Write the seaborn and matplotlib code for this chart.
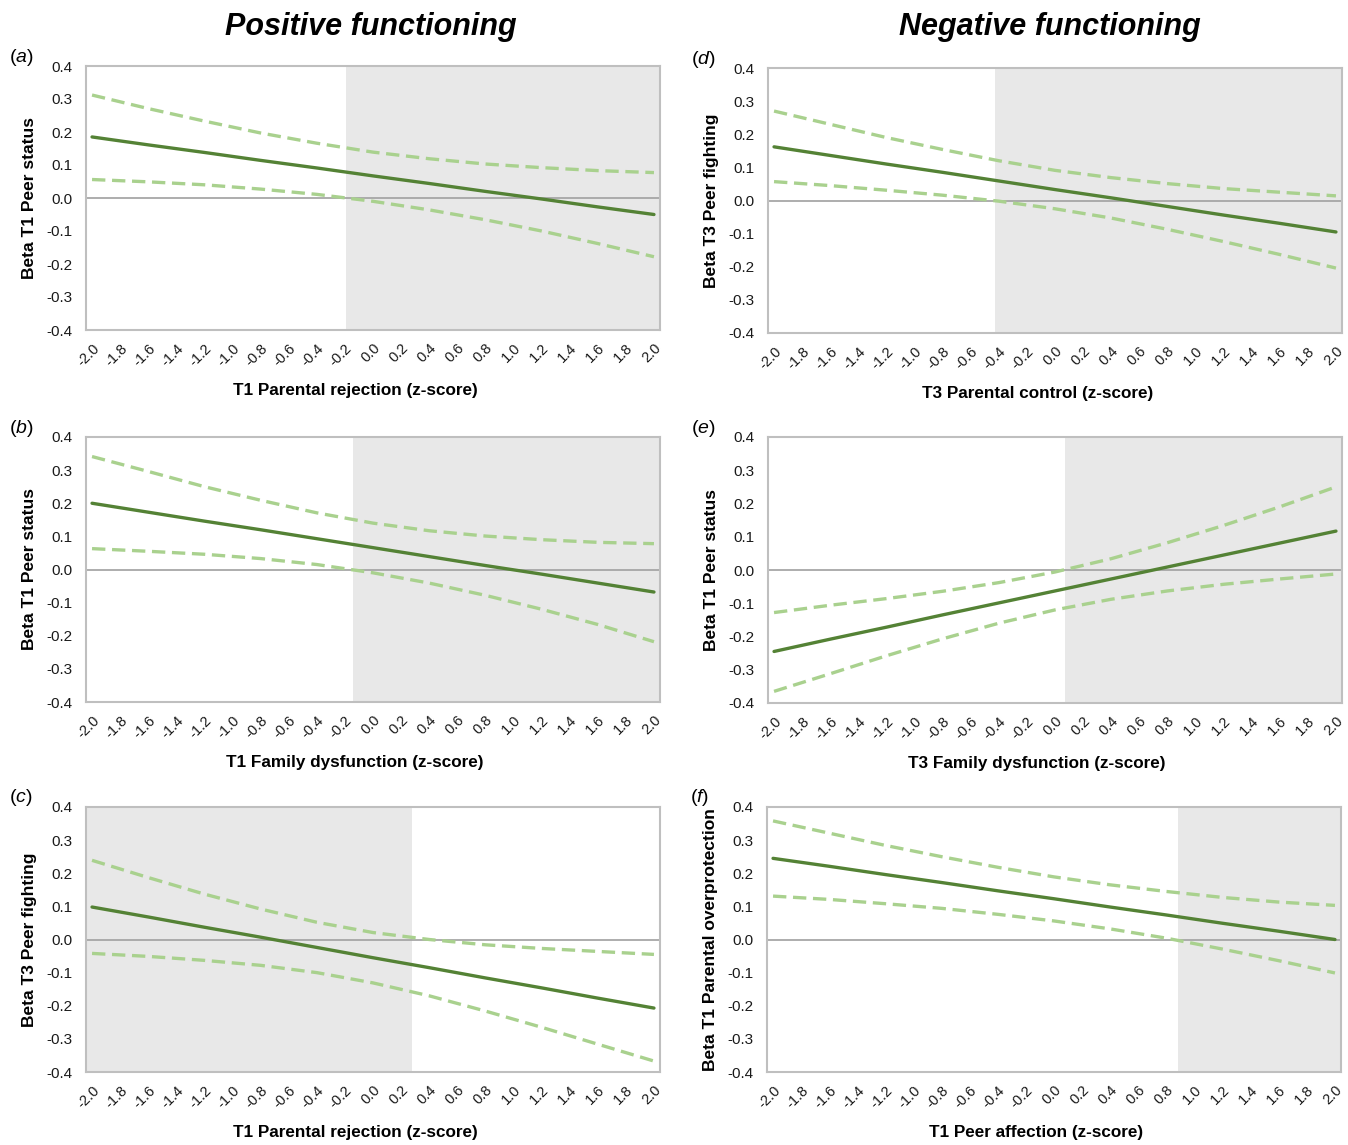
import numpy as np
import pandas as pd
import matplotlib
matplotlib.use("Agg")
import matplotlib.pyplot as plt
import seaborn as sns

# x grid (z-score of the moderator), shared by all panels
z_vals = [-2.0, -1.6, -1.2, -0.8, -0.4, 0.0, 0.4, 0.8, 1.2, 1.6, 2.0]
tick_vals = [-2.0, -1.8, -1.6, -1.4, -1.2, -1.0, -0.8, -0.6, -0.4, -0.2, 0.0,
             0.2, 0.4, 0.6, 0.8, 1.0, 1.2, 1.4, 1.6, 1.8, 2.0]
tick_labels = ['-2.0', '-1.8', '-1.6', '-1.4', '-1.2', '-1.0', '-0.8', '-0.6', '-0.4', '-0.2', '0.0',
               '0.2', '0.4', '0.6', '0.8', '1.0', '1.2', '1.4', '1.6', '1.8', '2.0']
ytick_vals = [-0.4, -0.3, -0.2, -0.1, 0.0, 0.1, 0.2, 0.3, 0.4]
ytick_labels = ['-0.4', '-0.3', '-0.2', '-0.1', '0.0', '0.1', '0.2', '0.3', '0.4']

# (a) T1 parental rejection -> T1 peer status
a_est = [0.185, 0.161, 0.138, 0.114, 0.091, 0.067, 0.044, 0.020, -0.003, -0.027, -0.050]
a_up = [0.312, 0.271, 0.233, 0.197, 0.166, 0.139, 0.119, 0.103, 0.092, 0.083, 0.077]
a_lo = [0.056, 0.049, 0.040, 0.027, 0.011, -0.010, -0.036, -0.066, -0.100, -0.138, -0.178]
a_shade = (-0.19, 2.1)

# (b) T1 family dysfunction -> T1 peer status
b_est = [0.200, 0.173, 0.146, 0.120, 0.093, 0.066, 0.039, 0.012, -0.014, -0.041, -0.068]
b_up = [0.341, 0.296, 0.250, 0.209, 0.171, 0.140, 0.117, 0.101, 0.090, 0.082, 0.078]
b_lo = [0.063, 0.055, 0.046, 0.033, 0.015, -0.010, -0.041, -0.078, -0.120, -0.166, -0.218]
b_shade = (-0.14, 2.1)

# (c) T1 parental rejection -> T3 peer fighting
c_est = [0.098, 0.068, 0.037, 0.007, -0.024, -0.055, -0.085, -0.116, -0.146, -0.177, -0.207]
c_up = [0.239, 0.187, 0.137, 0.092, 0.052, 0.021, 0.000, -0.016, -0.027, -0.036, -0.045]
c_lo = [-0.042, -0.051, -0.063, -0.078, -0.100, -0.131, -0.170, -0.216, -0.265, -0.316, -0.367]
c_shade = (-2.1, 0.28)

# (d) T3 parental control -> T3 peer fighting
d_est = [0.162, 0.136, 0.110, 0.085, 0.059, 0.033, 0.008, -0.018, -0.044, -0.069, -0.095]
d_up = [0.270, 0.230, 0.190, 0.154, 0.120, 0.091, 0.069, 0.051, 0.036, 0.025, 0.014]
d_lo = [0.057, 0.045, 0.031, 0.016, -0.002, -0.025, -0.053, -0.087, -0.124, -0.163, -0.204]
d_shade = (-0.43, 2.1)

# (e) T3 family dysfunction -> T1 peer status
e_est = [-0.245, -0.208, -0.172, -0.135, -0.099, -0.063, -0.027, 0.009, 0.045, 0.081, 0.117]
e_up = [-0.128, -0.106, -0.086, -0.064, -0.038, -0.006, 0.034, 0.082, 0.134, 0.190, 0.250]
e_lo = [-0.365, -0.312, -0.258, -0.207, -0.160, -0.120, -0.088, -0.063, -0.043, -0.027, -0.012]
e_shade = (0.07, 2.1)

# (f) T1 peer affection -> T1 parental overprotection
f_est = [0.245, 0.221, 0.196, 0.172, 0.147, 0.123, 0.098, 0.074, 0.049, 0.025, 0.000]
f_up = [0.358, 0.321, 0.284, 0.250, 0.218, 0.189, 0.165, 0.145, 0.127, 0.113, 0.103]
f_lo = [0.131, 0.121, 0.108, 0.094, 0.076, 0.056, 0.032, 0.004, -0.029, -0.064, -0.101]
f_shade = (0.88, 2.1)

panel_letters = ['a', 'b', 'c', 'd', 'e', 'f']
ylabels = ['Beta T1 Peer status', 'Beta T1 Peer status', 'Beta T3 Peer fighting',
           'Beta T3 Peer fighting', 'Beta T1 Peer status', 'Beta T1 Parental overprotection']
xlabels = ['T1 Parental rejection (z-score)', 'T1 Family dysfunction (z-score)',
           'T1 Parental rejection (z-score)', 'T3 Parental control (z-score)',
           'T3 Family dysfunction (z-score)', 'T1 Peer affection (z-score)']

panels = [(a_est, a_up, a_lo, a_shade), (b_est, b_up, b_lo, b_shade), (c_est, c_up, c_lo, c_shade),
          (d_est, d_up, d_lo, d_shade), (e_est, e_up, e_lo, e_shade), (f_est, f_up, f_lo, f_shade)]

sns.set_style('white')
plt.rcParams['font.family'] = ['Liberation Sans', 'DejaVu Sans']
plt.rcParams['mathtext.fontset'] = 'custom'
plt.rcParams['mathtext.rm'] = 'Liberation Sans'
plt.rcParams['mathtext.it'] = 'Liberation Sans:italic'
plt.rcParams['axes.unicode_minus'] = False
plt.rcParams['text.color'] = 'black'

W, H = 1348, 1145
fig = plt.figure(figsize=(W / 100, H / 100), dpi=100)

# axes boxes in pixels: left, top, right, bottom
boxes = [(86, 66, 660, 330), (86, 437, 660, 702), (86, 807, 660, 1072),
         (768, 68, 1342, 333), (768, 437, 1342, 703), (767, 807, 1341, 1072)]

dark = '#548235'
light = '#a9d18e'

for i, (est, up, lo, shade) in enumerate(panels):
    l, t, r, b = boxes[i]
    ax = fig.add_axes([l / W, 1 - b / H, (r - l) / W, (b - t) / H])
    ax.axvspan(shade[0], shade[1], color='#e8e8e8', lw=0, zorder=0)
    ax.axhline(0, color='#a0a0a0', lw=1.2, zorder=1)
    df = pd.DataFrame({'z': z_vals, 'est': est, 'up': up, 'lo': lo})
    sns.lineplot(data=df, x='z', y='up', ax=ax, color=light, lw=2.4,
                 linestyle=(0, (4, 2)), zorder=2)
    sns.lineplot(data=df, x='z', y='lo', ax=ax, color=light, lw=2.4,
                 linestyle=(0, (4, 2)), zorder=2)
    sns.lineplot(data=df, x='z', y='est', ax=ax, color=dark, lw=2.4, zorder=3)
    ax.set_xlim(-2.043, 2.043)
    ax.set_ylim(-0.4, 0.4)
    ax.set_xticks(tick_vals)
    ax.set_xticklabels(tick_labels, rotation=45, ha='right', rotation_mode='anchor',
                       fontsize=10.5, color='#1a1a1a')
    ax.set_yticks(ytick_vals)
    ax.set_yticklabels(ytick_labels, fontsize=11, color='#1a1a1a')
    ax.tick_params(axis='x', length=0, pad=8)
    ax.tick_params(axis='y', length=0, pad=10)
    for s in ax.spines.values():
        s.set_color('#bfbfbf')
        s.set_linewidth(1.5)
    ax.set_ylabel(ylabels[i], fontsize=12.5, fontweight='bold', color='black')
    ax.yaxis.set_label_coords(-0.086, 0.5)
    ax.set_xlabel(xlabels[i], fontsize=12.3, fontweight='bold', color='black')
    ax.xaxis.set_label_coords(0.469, -0.2)
    # panel letter
    fig.text((l - 77) / W, 1 - (t - 9) / H, r'$(\mathit{' + panel_letters[i] + '})$',
             fontsize=14, ha='left', va='center')

fig.text(371 / W, 1 - 27 / H, 'Positive functioning', fontsize=22,
         fontweight='bold', fontstyle='italic', ha='center', va='center')
fig.text(1050 / W, 1 - 27 / H, 'Negative functioning', fontsize=22,
         fontweight='bold', fontstyle='italic', ha='center', va='center')

fig.savefig('out.png', dpi=100)
